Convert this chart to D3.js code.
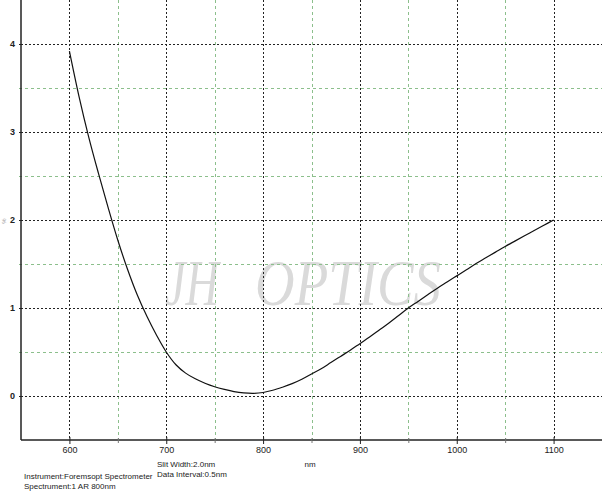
<!DOCTYPE html>
<html><head><meta charset="utf-8">
<script src="https://cdn.jsdelivr.net/npm/d3@7"></script>
<style>body{margin:0;background:#fff}svg{display:block}</style>
</head><body><svg id="c" width="612" height="491"></svg>
<script>
const wavelengths = [600,610,620,630,640,650,660,670,680,690,700,710,720,730,740,750,760,770,780,790,800,810,820,830,840,850,860,870,880,890,900,910,920,930,940,950,960,970,980,990,1000,1010,1020,1030,1040,1050,1060,1070,1080,1090,1100];
const values = [3.92,3.40,2.94,2.53,2.14,1.77,1.44,1.15,0.905,0.69,0.50,0.355,0.26,0.195,0.145,0.105,0.075,0.05,0.035,0.03,0.04,0.065,0.10,0.14,0.19,0.25,0.31,0.38,0.45,0.52,0.595,0.67,0.75,0.83,0.915,1.00,1.075,1.15,1.225,1.295,1.365,1.435,1.505,1.57,1.635,1.70,1.76,1.82,1.88,1.94,2.00];
const xMajorTicks = [600,700,800,900,1000,1100];
const xMinorTicks = [650,750,850,950,1050];
const yMajorTicks = [0,1,2,3,4];
const yMinorTicks = [0.5,1.5,2.5,3.5];
const xLabel = "nm";
const infoLines = ["Slit Width:2.0nm","Data Interval:0.5nm"];
const instrLines = ["Instrument:Foremsopt Spectrometer","Spectrument:1 AR 800nm"];
const watermarkWords = ["JH","OPTICS"];

const svg = d3.select("#c");
const L=21, R=602, T=0, B=440;
const x = d3.scaleLinear().domain([550,1150]).range([L,R]);
const y = d3.scaleLinear().domain([-0.5,4.5]).range([B,T]);
const px = v => Math.round(v)+0.5;

// watermark
const wmX = [165,255], wmLen = [54,186];
svg.selectAll(".wm").data(watermarkWords).join("text")
  .attr("x",(d,i)=>wmX[i]).attr("y",305).attr("textLength",(d,i)=>wmLen[i]).attr("lengthAdjust","spacingAndGlyphs")
  .attr("font-family","Liberation Serif, serif").attr("font-style","italic").attr("font-size",66)
  .attr("fill","#dadada").text(d=>d);

const g = svg.append("g").attr("shape-rendering","crispEdges");
// minor grid
g.selectAll(".vmin").data(xMinorTicks).join("line")
  .attr("x1",d=>px(x(d))).attr("x2",d=>px(x(d))).attr("y1",T).attr("y2",B+3)
  .attr("stroke","#8cbf8c").attr("stroke-dasharray","3,3");
g.selectAll(".hmin").data(yMinorTicks).join("line")
  .attr("x1",L-2).attr("x2",R).attr("y1",d=>px(y(d))).attr("y2",d=>px(y(d)))
  .attr("stroke","#8cbf8c").attr("stroke-dasharray","3,3");
// major grid
g.selectAll(".vmaj").data(xMajorTicks).join("line")
  .attr("x1",d=>px(x(d))).attr("x2",d=>px(x(d))).attr("y1",T).attr("y2",B)
  .attr("stroke","#222").attr("stroke-dasharray","2,2");
g.selectAll(".hmaj").data(yMajorTicks).join("line")
  .attr("x1",L).attr("x2",R).attr("y1",d=>px(y(d))).attr("y2",d=>px(y(d)))
  .attr("stroke","#222").attr("stroke-dasharray","2,2");

const font = "Liberation Sans, Arial, sans-serif";
// axes
const xAxis = d3.axisBottom(x).tickValues(xMajorTicks).tickSize(4).tickPadding(3).tickFormat(d3.format("d"));
const xg = svg.append("g").attr("transform",`translate(0,${B})`).call(xAxis);
xg.select(".domain").attr("stroke","#222").attr("stroke-width",1.5).attr("d",`M${L},0H${R}`);
xg.selectAll(".tick line").attr("stroke","#222").attr("y1",-3);
xg.selectAll("text").attr("font-family",font).attr("font-size",9).attr("fill","#222");
const xMinorAxis = d3.axisBottom(x).tickValues(xMinorTicks).tickSize(3).tickFormat("");
const xmg = svg.append("g").attr("transform",`translate(0,${B})`).call(xMinorAxis);
xmg.select(".domain").remove();
xmg.selectAll(".tick line").attr("stroke","#777").attr("y1",-2);

const yAxis = d3.axisLeft(y).tickValues(yMajorTicks).tickSize(2).tickPadding(4).tickFormat(d3.format("d"));
const yg = svg.append("g").attr("transform",`translate(${L},0)`).call(yAxis);
yg.select(".domain").attr("stroke","#222").attr("stroke-width",1.5).attr("d",`M0,${T}V${B}`);
yg.selectAll(".tick line").attr("stroke","#222");
yg.selectAll("text").attr("font-family",font).attr("font-size",9).attr("font-weight","bold").attr("fill","#222");

// y-axis label (tiny, rotated)
svg.append("text").attr("transform","translate(6,221) rotate(-90)").attr("text-anchor","middle")
  .attr("font-family",font).attr("font-size",6).attr("fill","#999").text("%");

// curve
const line = d3.line().x((d,i)=>x(wavelengths[i])).y(d=>y(d)).curve(d3.curveCatmullRom);
svg.append("path").datum(values).attr("d",line).attr("fill","none").attr("stroke","#111").attr("stroke-width",1.2);

// labels
svg.append("text").attr("x",310).attr("y",467).attr("text-anchor","middle").attr("font-family",font).attr("font-size",8).attr("fill","#222").text(xLabel);
svg.selectAll(".info").data(infoLines).join("text").attr("x",157).attr("y",(d,i)=>467+i*10)
  .attr("font-family",font).attr("font-size",8).attr("fill","#222").text(d=>d);
svg.selectAll(".instr").data(instrLines).join("text").attr("x",24).attr("y",(d,i)=>479+i*10)
  .attr("font-family",font).attr("font-size",8).attr("fill","#222").text(d=>d);
</script></body></html>
